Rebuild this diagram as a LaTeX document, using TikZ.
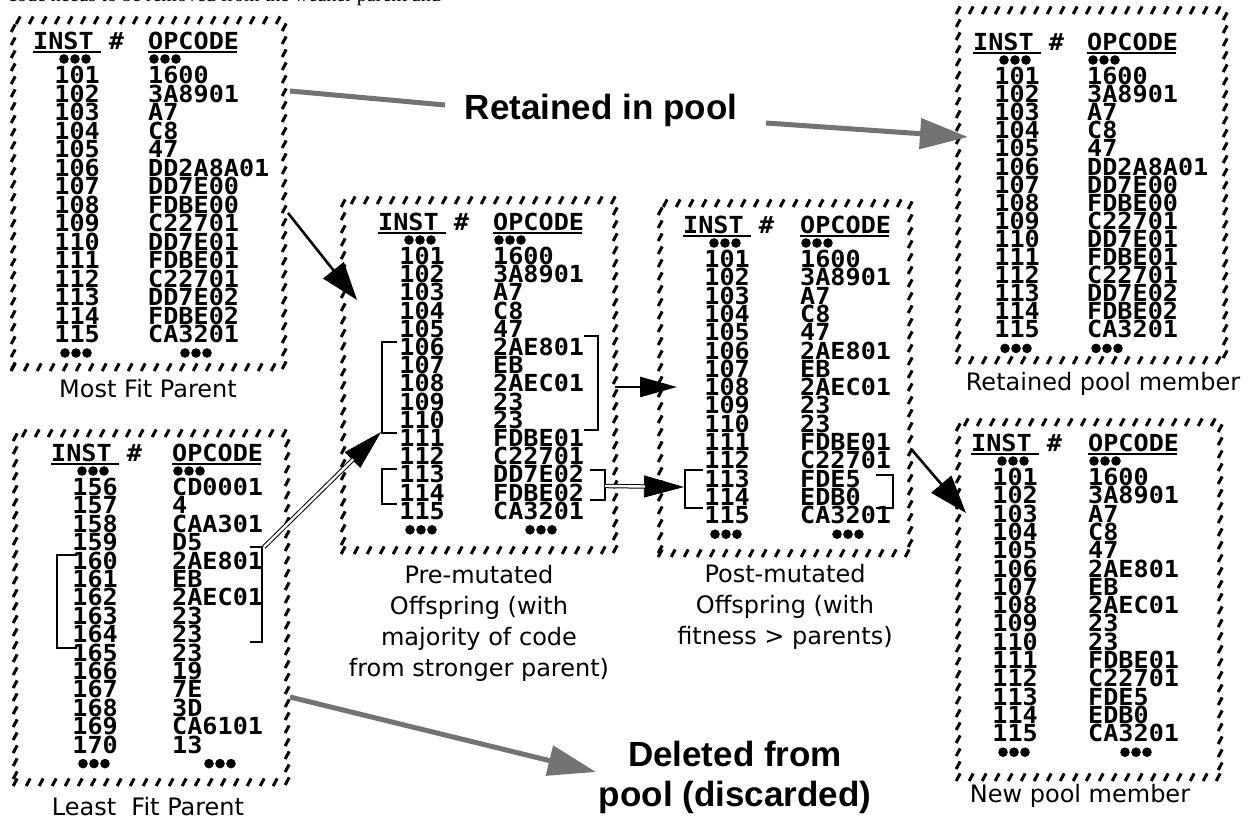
\documentclass[tikz,border=0pt]{standalone}
\usepackage{fontspec}
\setmainfont{DejaVu Sans}
\newfontfamily\codefont[FakeStretch=1.07]{DejaVu Sans Mono}
\newfontfamily\boldfont{Liberation Sans}
\newfontfamily\serifnt{Liberation Serif}
\usetikzlibrary{arrows.meta,decorations.markings,calc}

\tikzset{
 hatchbox/.style={inner sep=0pt, postaction={decorate, decoration={markings, mark=between positions 0 and 1 step 13pt with {\pgftransformresetnontranslations \draw[line width=3pt] (-2pt,-3.8pt) -- (2pt,3.8pt);}}}},
 codetxt/.style={font=\codefont\bfseries\fontsize{23.5}{23.5}\selectfont, inner sep=0pt, text height=17.1pt, text depth=0pt},
 uline/.style={line width=2.2pt},
 brk/.style={line width=2.6pt},
 lbl/.style={font=\fontsize{24}{31}\selectfont, inner sep=0pt, align=center},
 big/.style={font=\boldfont\bfseries\fontsize{35}{40}\selectfont, inner sep=0pt, align=center},
 blk/.style={line width=2.6pt, -{Triangle[length=38pt,width=26pt]}},
 blksmall/.style={line width=2.6pt, -{Triangle[length=37pt,width=20pt]}},
 dbl/.style={double, double distance=2.4pt, line width=1pt},
 thinhead/.style={line width=0.8pt, -{Triangle[length=40pt,width=22pt]}},
 stip/.style={draw=black!55, line width=5pt},
 stiphead/.style={-{Triangle[length=48pt,width=30pt]}},
}

\newcommand\boxparams[8]{\def\bL{#1}\def\bT{#2}\def\bR{#3}\def\bB{#4}\def\bNR{#5}\def\bOX{#6}\def\bHY{#7}\def\bS{#8}}
\newcommand\tdots[2]{\foreach \k in {-1,0,1}{\fill ({#1+\k*11},{#2}) circle (4.8pt);}}
\newcommand\codebox[4]{%
 \node[hatchbox, anchor=north west, minimum width={(\bR-\bL)*1pt}, minimum height={(\bB-\bT)*1pt}] (#1) at (\bL,\bT) {};
 \node[codetxt, anchor=west] (#1-inst) at ({\bNR-67},\bHY) {INST \#};
 \node[codetxt, anchor=west] (#1-op) at (\bOX,\bHY) {OPCODE};
 \draw[uline] ({\bNR-67},{\bHY+11}) -- ++(68,0);
 \draw[uline] (\bOX,{\bHY+11}) -- ++(89,0);
 \tdots{\bNR-25}{\bHY+18}
 \tdots{\bOX+17}{\bHY+18}
 \foreach \t [count=\i] in {#2}{\node[codetxt, anchor=east] (#1-n\i) at (\bNR,{\bHY+34+(\i-1)*\bS}) {\t};}
 \foreach \t [count=\i] in {#3}{\node[codetxt, anchor=west] (#1-o\i) at (\bOX,{\bHY+34+(\i-1)*\bS}) {\t};}
 \tdots{\bNR-24}{\bHY+53+14*\bS}
 \tdots{\bOX+#4}{\bHY+53+14*\bS}
}

\begin{document}
\begin{tikzpicture}[x=1pt,y=-1pt]
\useasboundingbox (0,0) rectangle (1251,821);
\fill[white] (0,0) rectangle (1251,821);
\begin{scope}
\clip (0,0) rectangle (1251,821);
\node[anchor=base west, inner sep=0pt, font=\serifnt\fontsize{20}{20}\selectfont] (toptext) at (8,2) {code needs to be removed from the weaker parent and};
\end{scope}

% Most fit parent
\boxparams{13}{20}{284}{367}{100}{148}{41}{18.5}
\codebox{A}{101,...,115}{1600,3A8901,A7,C8,47,DD2A8A01,DD7E00,FDBE00,C22701,DD7E01,FDBE01,C22701,DD7E02,FDBE02,CA3201}{48}
\node[lbl] (A-lbl) at (148,389) {Most Fit Parent};

% Least fit parent
\boxparams{15}{433}{287}{782}{118}{172}{453}{18.4}
\codebox{B}{156,...,170}{CD0001,4,CAA301,D5,2AE801,EB,2AEC01,23,23,23,19,7E,3D,CA6101,13}{48}
\node[lbl] (B-lbl) at (148,807) {Least\ \ Fit Parent};
\draw[brk] (77,555) -- (57,555) -- (57,648) -- (77,648);
\draw[brk] (250,547) -- (262,547) -- (262,642) -- (250,642);

% Pre-mutated offspring
\boxparams{343}{200}{615}{550}{445}{493}{222}{18.2}
\codebox{C}{101,...,115}{1600,3A8901,A7,C8,47,2AE801,EB,2AEC01,23,23,FDBE01,C22701,DD7E02,FDBE02,CA3201}{48}
\node[lbl] (C-lbl) at (479,623) {Pre-mutated\\Offspring (with\\majority of code\\from stronger parent)};
\draw[brk] (397,342) -- (382,342) -- (382,433) -- (397,433);
\draw[brk] (584,336) -- (598,336) -- (598,430) -- (584,430);
\draw[brk] (397,469) -- (382,469) -- (382,504) -- (397,504);
\draw[brk] (590,470) -- (605,470) -- (605,500) -- (590,500);

% Post-mutated offspring
\boxparams{660}{203}{910}{553}{750}{800}{225}{18.3}
\codebox{D}{101,...,115}{1600,3A8901,A7,C8,47,2AE801,EB,2AEC01,23,23,FDBE01,C22701,FDE5,EDB0,CA3201}{48}
\node[lbl] (D-lbl) at (785,607) {Post-mutated\\Offspring (with\\fitness > parents)};
\draw[brk] (703,470) -- (685,470) -- (685,508) -- (703,508);
\draw[brk] (876,475) -- (893,475) -- (893,508) -- (876,508);

% New pool member
\boxparams{958}{422}{1220}{777}{1038}{1088}{443}{18.3}
\codebox{E}{101,...,115}{1600,3A8901,A7,C8,47,2AE801,EB,2AEC01,23,23,FDBE01,C22701,FDE5,EDB0,CA3201}{48}
\node[lbl] (E-lbl) at (1080,796) {New pool member};

% Retained pool member
\boxparams{958}{10}{1225}{360}{1040}{1087}{42}{18.1}
\codebox{F}{101,...,115}{1600,3A8901,A7,C8,47,DD2A8A01,DD7E00,FDBE00,C22701,DD7E01,FDBE01,C22701,DD7E02,FDBE02,CA3201}{20}
\node[lbl] (F-lbl) at (1103,384) {Retained pool member};

% big labels
\node[big] (retained) at (601,110) {Retained in pool};
\node[big] (deleted) at (735,777) {Deleted from\\pool (discarded)};

% connectors
\coordinate (a1) at (290,91);
\coordinate (a2) at (445,105);
\coordinate (a3) at (766,123);
\coordinate (f1) at (968,137);
\draw[stip] (a1) -- (a2);
\draw[stip, stiphead] (a3) -- (f1);

\coordinate (b2) at (290,697);
\coordinate (del) at (596,772);
\draw[stip, stiphead] (b2) -- (del);

\coordinate (a5) at (288,213);
\coordinate (c1) at (357,300);
\draw[blk] (a5) -- (c1);

\coordinate (b1) at (264,547);
\coordinate (c2) at (381,432);
\draw[thinhead] (b1) -- (c2);
\draw[dbl, shorten >=39pt] (b1) -- (c2);

\coordinate (c3) at (615,387);
\coordinate (d1) at (677,387);
\draw[blksmall] (c3) -- (d1);

\coordinate (c4) at (605,486);
\coordinate (d2) at (684,487);
\draw[thinhead] (c4) -- (d2);
\draw[dbl, shorten >=39pt] (c4) -- (d2);

\coordinate (d3) at (912,450);
\coordinate (e1) at (966,513);
\draw[blk] (d3) -- (e1);
\end{tikzpicture}
\end{document}
